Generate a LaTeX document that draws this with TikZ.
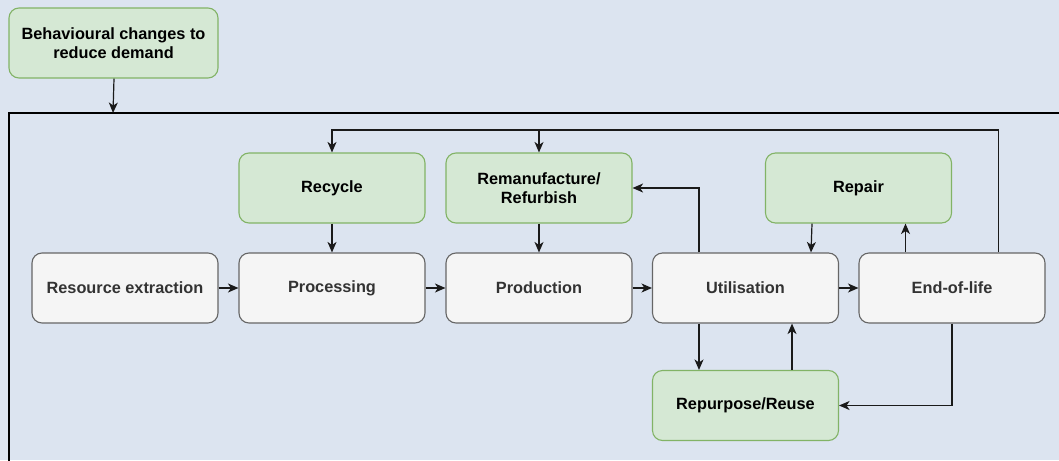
\documentclass[tikz,border=0pt]{standalone}
\usepackage{fontspec}
\setmainfont{Liberation Sans}
\usetikzlibrary{arrows.meta}
\definecolor{bgc}{HTML}{DCE4F0}
\definecolor{gfill}{HTML}{D5E8D4}
\definecolor{gdraw}{HTML}{82B366}
\definecolor{wfill}{HTML}{F5F5F5}
\definecolor{wdraw}{HTML}{666666}
\definecolor{wtext}{HTML}{333333}
\definecolor{lnc}{HTML}{1A1A1A}
\begin{document}
\begin{tikzpicture}[x=1pt,y=-1pt,
  box/.style={rounded corners=10pt, minimum width=186pt, minimum height=70pt, line width=1.1pt,
    font=\fontsize{16.3}{19.5}\selectfont\bfseries, align=center, inner sep=0pt},
  gbox/.style={box, fill=gfill, draw=gdraw, text=black},
  wbox/.style={box, fill=wfill, draw=wdraw, text=wtext},
  arr/.style={draw=lnc, line width=1.2pt, -{Stealth[length=10.5pt,width=9pt,inset=3pt]}},
  ln/.style={draw=lnc, line width=1.2pt}]
\fill[bgc] (0,0) rectangle (1059,460);
\useasboundingbox (0,0) rectangle (1059,460);
% frame
\coordinate (ftop) at (113,113);
\draw[line width=1.3pt, draw=black] (9,461) -- (9,113) -- (1060,113);
% nodes
\node[gbox, minimum width=209pt] (beh) at (113.5,43) {Behavioural changes to\\reduce demand};
\node[gbox] (recycle) at (332,188) {Recycle};
\node[gbox] (reman) at (539,188) {Remanufacture/\\Refurbish};
\node[gbox] (repair) at (858.5,188) {Repair};
\node[wbox] (res) at (125,288) {Resource extraction};
\node[wbox] (proc) at (332,288) {Processing};
\node[wbox] (prod) at (539,288) {Production};
\node[wbox] (util) at (745.5,288) {Utilisation};
\node[wbox] (eol) at (952,288) {End-of-life};
\node[gbox] (reuse) at (745.5,405.5) {Repurpose/Reuse};
% connectors
\draw[arr] ([xshift=0.5pt]beh.south) -- (ftop);
\draw[arr] (recycle.south) -- (proc.north);
\draw[arr] (reman.south) -- (prod.north);
\draw[arr] (res.east) -- (proc.west);
\draw[arr] (proc.east) -- (prod.west);
\draw[arr] (prod.east) -- (util.west);
\draw[arr] (util.east) -- (eol.west);
\draw[arr] ([xshift=-46.5pt]util.north) |- (reman.east);
\draw[arr] ([xshift=-46.5pt]repair.south) -- ([xshift=65.5pt]util.north);
\draw[arr] ([xshift=-46.5pt]eol.north) -- ([xshift=-46.5pt]eol.north |- repair.south);
\draw[arr] ([xshift=-46.5pt]util.south) -- ([xshift=-46.5pt]reuse.north);
\draw[arr] ([xshift=46.5pt]reuse.north) -- ([xshift=46.5pt]util.south);
\draw[arr] (eol.south) |- (reuse.east);
\coordinate (loopL) at (332,130);
\draw[arr] ([xshift=46.5pt]eol.north) |- (loopL) -- (recycle.north);
\draw[arr] (reman.north |- loopL) -- (reman.north);
\end{tikzpicture}
\end{document}
